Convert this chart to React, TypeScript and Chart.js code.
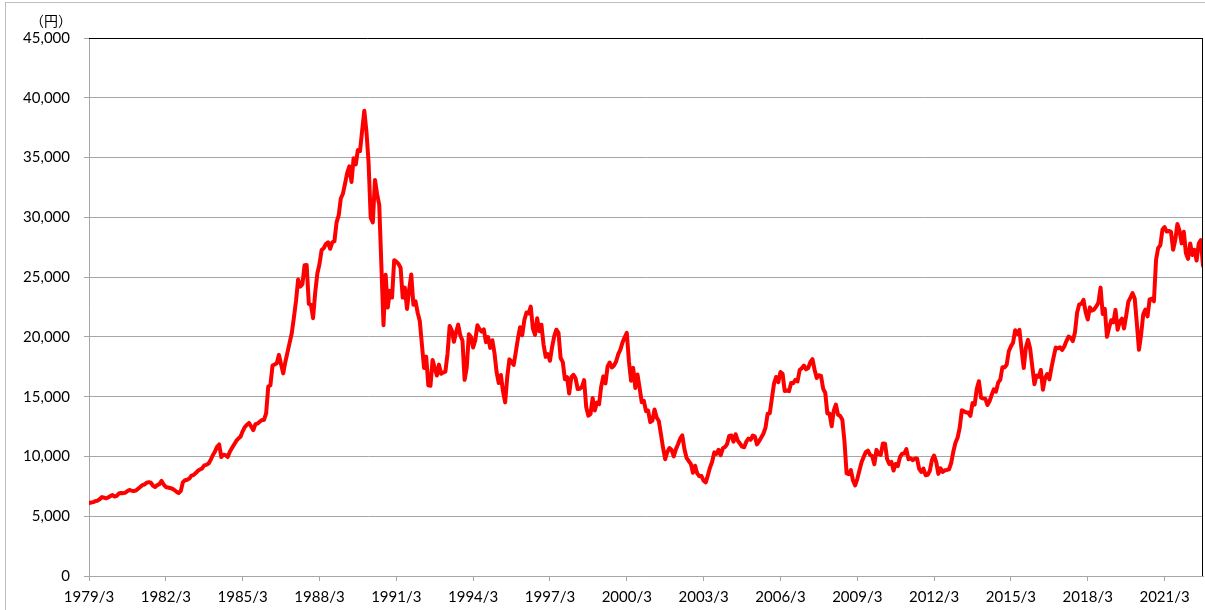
import React, { useEffect, useRef } from "react";
import { Chart, registerables } from "chart.js";

Chart.register(...registerables);

// Monthly closing values (円), 1979/3 – 2022/9
const v1979 = [6100, 6150, 6180, 6260, 6300, 6420, 6600, 6560, 6500, 6569];
const v1980 = [6680, 6770, 6650, 6700, 6900, 6950, 6930, 6960, 7100, 7200, 7130, 7116];
const v1981 = [7150, 7300, 7450, 7600, 7650, 7800, 7850, 7800, 7550, 7450, 7600, 7681];
const v1982 = [7950, 7650, 7440, 7400, 7360, 7300, 7190, 7050, 6940, 7100, 7850, 8016];
const v1983 = [8050, 8150, 8400, 8450, 8610, 8800, 8900, 9000, 9250, 9300, 9400, 9700];
const v1984 = [10100, 10400, 10800, 11000, 9950, 10150, 10100, 9950, 10400, 10700, 11000, 11300];
const v1985 = [11500, 11650, 12100, 12450, 12650, 12800, 12500, 12200, 12700, 12750, 12900, 13050];
const v1986 = [13050, 13600, 15850, 15950, 17600, 17700, 17800, 18500, 17700, 16950, 17900, 18700];
const v1987 = [19500, 20300, 21600, 23000, 24800, 24200, 24400, 26000, 26010, 22765, 22687, 21564];
const v1988 = [23720, 25300, 26100, 27260, 27420, 27770, 27910, 27370, 27920, 28000, 29580, 30160];
const v1989 = [31580, 31990, 32840, 33710, 34270, 32950, 34950, 34430, 35640, 35550, 37270, 38915];
const v1990 = [37190, 34590, 29980, 29580, 33130, 31940, 31040, 25980, 20980, 25190, 22450, 23850];
const v1991 = [23290, 26410, 26290, 26110, 25790, 23290, 24120, 22340, 23920, 25220, 22690, 22980];
const v1992 = [22020, 21340, 19350, 17390, 18350, 15950, 15910, 18060, 17400, 16770, 17680, 16920];
const v1993 = [17020, 17100, 18590, 20920, 20550, 19590, 20380, 21030, 20110, 19700, 16410, 17420];
const v1994 = [20230, 20000, 19110, 19730, 20970, 20640, 20450, 20630, 19560, 19990, 19080, 19720];
const v1995 = [18650, 17050, 16140, 16810, 15440, 14520, 16680, 18120, 17910, 17650, 18740, 19870];
const v1996 = [20810, 20130, 21410, 22040, 21960, 22530, 20690, 20170, 21560, 20470, 21020, 19360];
const v1997 = [18330, 18560, 18000, 19150, 20070, 20600, 20330, 18230, 17890, 16460, 16640, 15260];
const v1998 = [16630, 16830, 16530, 15640, 15670, 15830, 16380, 14110, 13410, 13560, 14880, 13840];
const v1999 = [14500, 14370, 15840, 16700, 16110, 17530, 17860, 17440, 17610, 17940, 18560, 18930];
const v2000 = [19540, 19960, 20340, 17970, 16330, 17410, 15730, 16860, 15750, 14540, 14650, 13790];
const v2001 = [13840, 12880, 13000, 13930, 13260, 12970, 11860, 10710, 9770, 10370, 10700, 10540];
const v2002 = [10000, 10590, 11020, 11490, 11760, 10620, 9880, 9620, 9380, 8640, 9220, 8580];
const v2003 = [8340, 8360, 7970, 7830, 8420, 9080, 9560, 10340, 10220, 10560, 10100, 10680];
const v2004 = [10780, 11040, 11720, 11760, 11240, 11860, 11330, 11080, 10820, 10770, 11230, 11490];
const v2005 = [11390, 11740, 11670, 11010, 11280, 11580, 11900, 12410, 13570, 13610, 14870, 16110];
const v2006 = [16650, 16210, 17060, 16910, 15470, 15510, 15460, 16140, 16130, 16400, 16270, 17230];
const v2007 = [17380, 17600, 17290, 17400, 17880, 18140, 17250, 16570, 16790, 16740, 15680, 15310];
const v2008 = [13590, 13600, 12530, 13850, 14340, 13480, 13380, 13070, 11260, 8580, 8510, 8860];
const v2009 = [7990, 7570, 8110, 8830, 9520, 9960, 10360, 10490, 10130, 10030, 9350, 10550];
const v2010 = [10200, 10130, 11090, 11060, 9770, 9380, 9540, 8820, 9370, 9200, 9940, 10230];
const v2011 = [10240, 10620, 9760, 9850, 9690, 9820, 9830, 8960, 8700, 8990, 8430, 8460];
const v2012 = [8800, 9720, 10080, 9520, 8540, 9010, 8700, 8840, 8870, 8930, 9450, 10400];
const v2013 = [11140, 11560, 12400, 13860, 13770, 13680, 13670, 13390, 14460, 14330, 15660, 16290];
const v2014 = [14910, 14840, 14830, 14300, 14630, 15160, 15620, 15420, 16170, 16410, 17460, 17450];
const v2015 = [17670, 18800, 19210, 19520, 20560, 20240, 20590, 18890, 17390, 19080, 19750, 19030];
const v2016 = [17520, 16030, 16760, 16670, 17230, 15580, 16570, 16890, 16450, 17430, 18310, 19110];
const v2017 = [19040, 19120, 18910, 19200, 19650, 20030, 19930, 19650, 20360, 22010, 22720, 22760];
const v2018 = [23100, 22070, 21450, 22470, 22200, 22300, 22550, 22870, 24120, 21920, 22350, 20010];
const v2019 = [20770, 21390, 21210, 22260, 20600, 21280, 21520, 20700, 21760, 22930, 23290, 23660];
const v2020 = [23210, 21140, 18920, 20190, 21880, 22290, 21710, 23140, 23190, 22980, 26430, 27440];
const v2021 = [27660, 28970, 29180, 28810, 28860, 28790, 27280, 28090, 29450, 28890, 27820, 28790];
const v2022 = [27000, 26530, 27820, 26850, 27280, 26390, 27800, 28090, 25940];

const seriesValues: number[] = [
  ...v1979, ...v1980, ...v1981, ...v1982, ...v1983, ...v1984, ...v1985, ...v1986,
  ...v1987, ...v1988, ...v1989, ...v1990, ...v1991, ...v1992, ...v1993, ...v1994,
  ...v1995, ...v1996, ...v1997, ...v1998, ...v1999, ...v2000, ...v2001, ...v2002,
  ...v2003, ...v2004, ...v2005, ...v2006, ...v2007, ...v2008, ...v2009, ...v2010,
  ...v2011, ...v2012, ...v2013, ...v2014, ...v2015, ...v2016, ...v2017, ...v2018,
  ...v2019, ...v2020, ...v2021, ...v2022,
];

const startYear = 1979;
const startMonth = 3;
const categories: string[] = seriesValues.map((_, i) => {
  const m = startMonth - 1 + i;
  return `${startYear + Math.floor(m / 12)}/${(m % 12) + 1}`;
});

const xTickLabels = [
  "1979/3", "1982/3", "1985/3", "1988/3", "1991/3", "1994/3", "1997/3", "2000/3",
  "2003/3", "2006/3", "2009/3", "2012/3", "2015/3", "2018/3", "2021/3",
];
const yTickValues = [0, 5000, 10000, 15000, 20000, 25000, 30000, 35000, 40000, 45000];
const unitLabel = "（円）";

const FONT = "Lato, 'Liberation Sans', Arial, sans-serif";
const GRID = "#a6a6a6";

const framePlugin = {
  id: "frame",
  afterDraw(chart: any) {
    const { ctx, chartArea } = chart;
    ctx.save();
    ctx.strokeStyle = "#000";
    ctx.lineWidth = 1;
    ctx.beginPath();
    ctx.moveTo(chartArea.left, Math.round(chartArea.top) + 0.5);
    ctx.lineTo(chartArea.right, Math.round(chartArea.top) + 0.5);
    ctx.moveTo(Math.round(chartArea.right) - 0.5, chartArea.top);
    ctx.lineTo(Math.round(chartArea.right) - 0.5, chartArea.bottom);
    ctx.stroke();
    ctx.fillStyle = "#000";
    ctx.font = "14px 'Noto Sans CJK JP', sans-serif";
    ctx.textAlign = "center";
    ctx.textBaseline = "middle";
    ctx.fillText(unitLabel, 51, 21);
    ctx.restore();
  },
};

export default function App() {
  const ref = useRef<HTMLCanvasElement | null>(null);

  useEffect(() => {
    if (!ref.current) return;
    const chart = new Chart(ref.current, {
      type: "line",
      data: {
        datasets: [
          {
            data: seriesValues.map((y, i) => ({ x: i, y })),
            borderColor: "#ff0000",
            backgroundColor: "#ff0000",
            borderWidth: 4,
            pointRadius: 0,
            tension: 0,
            borderJoinStyle: "round",
            borderCapStyle: "round",
            fill: false,
          },
        ],
      },
      options: {
        responsive: false,
        animation: false,
        layout: { padding: { top: 38, right: 2, left: 0, bottom: 0 } },
        plugins: { legend: { display: false }, tooltip: { enabled: false } },
        scales: {
          x: {
            type: "linear",
            min: 0,
            max: categories.length - 1,
            afterBuildTicks: (s: any) => {
              s.ticks = xTickLabels.map((l) => ({ value: categories.indexOf(l) }));
            },
            afterFit: (s: any) => {
              s.height = 34;
            },
            ticks: {
              autoSkip: false,
              maxRotation: 0,
              padding: 7,
              color: "#000",
              font: { family: FONT, size: 15 },
              callback: (v: any) => categories[Math.round(Number(v))],
            },
            grid: {
              drawOnChartArea: false,
              drawTicks: true,
              tickLength: 5,
              tickColor: GRID,
            },
            border: { color: GRID, width: 1 },
          },
          y: {
            min: 0,
            max: 45000,
            afterBuildTicks: (s: any) => {
              s.ticks = yTickValues.map((v) => ({ value: v }));
            },
            afterFit: (s: any) => {
              s.width = 89;
            },
            ticks: {
              padding: 14,
              color: "#000",
              font: { family: FONT, size: 15 },
              callback: (v: any) => Number(v).toLocaleString("en-US"),
            },
            grid: { color: GRID, tickLength: 5, tickColor: GRID, lineWidth: 1 },
            border: { color: GRID, width: 1 },
          },
        },
      },
      plugins: [framePlugin],
    } as any);
    return () => chart.destroy();
  }, []);

  return (
    <div
      style={{
        position: "fixed",
        left: 0,
        top: 0,
        width: 1205,
        height: 610,
        overflow: "hidden",
        background: "#fff",
      }}
    >
      <div
        style={{
          position: "absolute",
          left: 5,
          top: 2,
          width: 1400,
          height: 800,
          border: "1px solid #bdbdbd",
        }}
      />
      <canvas
        ref={ref}
        width={1205}
        height={610}
        style={{ position: "absolute", left: 0, top: 0, width: 1205, height: 610 }}
      />
    </div>
  );
}
